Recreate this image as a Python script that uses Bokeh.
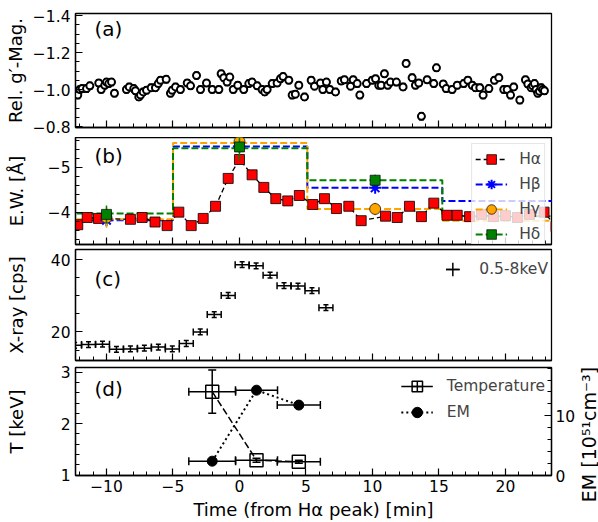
import math
from bokeh.plotting import figure
from bokeh.models import (Range1d, LinearAxis, FixedTicker, CustomJSTickFormatter,
                          Whisker, TeeHead, ColumnDataSource, Legend, LegendItem, Label)
from bokeh.layouts import column, row
from bokeh.embed import file_html
from bokeh.resources import INLINE

FONT = "DejaVu Sans"
TICK_FS = "15.5px"
LABEL_FS = "18px"
NAN = float("nan")

# ---------------- data ----------------
x_lim = (-12.33, 23.46)
x_major = [-10, -5, 0, 5, 10, 15, 20]
x_minor = list(range(-12, 24))

# (a) relative g' magnitude
mag_t = [-12.16, -12.0, -11.83, -11.5, -11.25, -10.58, -10.4, -10.13, -10.0, -9.83,
         -9.62, -9.4, -8.5, -8.29, -7.95, -7.82, -7.57, -7.44, -7.24, -6.99,
         -6.64, -6.32, -6.11, -5.94, -5.51, -5.19, -5.06, -4.81, -4.44, -3.93,
         -3.68, -3.23, -2.93, -2.48, -2.05, -1.55, -1.38, -1.18, -0.93, -0.73,
         -0.47, -0.13, 0.32, 0.7, 0.95, 1.33, 1.7, 1.9, 2.08, 2.46,
         2.83, 3.08, 3.28, 3.71, 3.96, 4.2, 4.46, 4.89, 5.39, 5.64,
         6.09, 6.27, 6.54, 6.79, 7.22, 7.65, 7.89, 8.35, 8.55, 8.85,
         9.05, 9.55, 9.98, 10.23, 10.47, 10.65, 10.9, 11.15, 11.35, 11.8,
         12.3, 12.53, 12.98, 13.23, 13.48, 13.68, 14.11, 14.61, 14.81, 15.32,
         15.54, 15.99, 16.37, 16.86, 17.17, 17.5, 17.74, 18.07, 18.32, 18.75,
         19.17, 19.5, 19.87, 20.13, 20.38, 20.62, 21.08, 21.5, 21.68, 21.93,
         22.05, 22.18, 22.3, 22.43, 22.55, 22.68, 22.8, 22.93]
mag_v = [-0.97, -1.0, -1.005, -1.005, -1.02, -1.035, -1.0, -1.023, -1.04, -1.032,
         -1.04, -0.98, -1.0, -1.014, -1.005, -0.993, -0.96, -0.97, -0.987, -0.996,
         -1.01, -1.01, -1.032, -1.05, -1.055, -0.98, -0.996, -1.014, -1.0, -1.035,
         -1.02, -1.076, -1.0, -1.035, -1.0, -1.0, -1.085, -1.064, -1.04, -1.067,
         -1.0, -1.023, -1.0, -1.032, -1.04, -1.02, -1.0, -0.987, -1.0, -1.032,
         -1.035, -1.058, -1.07, -1.05, -0.97, -0.975, -1.023, -0.96, -1.05, -1.018,
         -1.035, -1.0, -1.04, -1.0, -0.987, -1.046, -1.053, -1.018, -1.053, -1.032,
         -0.97, -1.032, -1.05, -1.058, -1.023, -1.023, -1.085, -1.023, -1.04, -1.04,
         -1.014, -1.141, -1.064, -1.023, -1.035, -0.855, -1.053, -1.032, -1.117, -1.03,
         -1.005, -1.0, -1.023, -1.032, -1.05, -1.023, -1.01, -1.01, -0.97, -1.005,
         -1.05, -1.064, -1.0, -1.0, -0.97, -1.014, -0.943, -1.053, -1.03, -1.01,
         -1.02, -1.032, -1.0, -0.98, -0.99, -1.01, -1.0, -0.993]
mag_err = [0.018] * len(mag_t)
a_major = [-1.4, -1.2, -1.0, -0.8]
a_minor = [-1.4 + 0.05 * i for i in range(13)]

# (b) equivalent widths
ha_t = [-12.16, -11.45, -10.6, -8.2, -7.32, -6.35, -5.44, -4.56, -3.63, -2.73,
        -1.8, -0.85, 0.0, 0.95, 1.83, 2.73, 3.63, 4.5, 5.51, 6.39,
        7.29, 8.22, 9.15, 10.98, 11.86, 12.78, 13.68, 14.61, 15.6, 16.37,
        17.3, 18.2, 19.1, 20.0, 20.9, 21.8, 22.9, 23.8]
ha_v = [-3.72, -3.88, -3.86, -3.84, -3.88, -3.78, -3.70, -4.00, -3.70, -3.86,
        -4.13, -4.75, -5.17, -4.83, -4.55, -4.30, -4.25, -4.37, -4.17, -4.30,
        -4.08, -4.13, -3.81, -3.91, -3.88, -4.13, -3.90, -4.20, -3.93, -3.93,
        -3.90, -3.95, -3.90, -3.92, -3.88, -3.95, -4.00, -3.68]
bin_edges = [-13.0, -5.0, 5.1, 15.25, 24.0]
hb_level = [-3.82, -5.46, -4.54, -4.25]
hg_level = [-3.84, -5.54, -4.07, -3.81]
hd_level = [-3.97, -5.42, -4.71, -3.91]
spec_t = [-10.0, 0.0, 10.2]
hb_pt = [-3.82, -5.46, -4.54]
hb_pe = [0.06, 0.08, 0.06]
hg_pt = [-3.88, -5.57, -4.07]
hg_pe = [0.23, 0.12, 0.14]
hd_pt = [-3.95, -5.45, -4.71]
hd_pe = [0.20, 0.30, 0.12]
b_major = [-5, -4]
b_minor = [-5.6, -5.4, -5.2, -4.8, -4.6, -4.4, -4.2, -3.8, -3.6, -3.4]

# (c) X-ray light curve
xr_t = [-12.4, -11.35, -10.3, -9.25, -8.2, -7.15, -6.1, -5.05, -4.0, -2.95,
        -1.9, -0.85, 0.2, 1.25, 2.3, 3.35, 4.4, 5.45, 6.5]
xr_v = [16.3, 16.5, 16.6, 15.2, 15.3, 15.5, 15.8, 15.3, 16.8, 20.0,
        24.8, 30.1, 38.6, 38.3, 35.7, 32.8, 32.7, 31.4, 26.7]
xr_hw = 0.525
xr_err = 0.8
c_major = [20, 40]
c_minor = [15, 25, 30, 35]

# (d) temperature and emission measure
d_t = [-2.05, 1.28, 4.46]
d_hw = [1.76, 1.58, 1.62]
temp = [2.62, 1.29, 1.26]
temp_err = [0.42, 0.04, 0.03]
em = [2.4, 14.3, 11.8]
em_err = [0.2, 0.4, 0.3]
d_major = [1, 2, 3]
d_minor = [1.2, 1.4, 1.6, 1.8, 2.2, 2.4, 2.6, 2.8, 3.0]
em_major = [0, 10]
em_minor = [2, 4, 6, 8, 12, 14, 16, 18]

# ---------------- helpers ----------------
FMT1 = CustomJSTickFormatter(code="return tick.toFixed(1).replace('-', '\\u2212');")
FMT0 = CustomJSTickFormatter(code="return tick.toFixed(0).replace('-', '\\u2212');")

W_MAIN = 578       # main column; the last 20 px hold the EM axis title
xr = Range1d(*x_lim)


def style_axis(ax, major, minor, labels=True, fmt=None):
    ax.ticker = FixedTicker(ticks=major, minor_ticks=minor)
    ax.major_tick_in = 7
    ax.major_tick_out = 0
    ax.minor_tick_in = 4
    ax.minor_tick_out = 0
    ax.major_tick_line_color = "black"
    ax.minor_tick_line_color = "black"
    ax.major_tick_line_width = 1.2
    ax.minor_tick_line_width = 1.0
    ax.axis_line_color = "black"
    ax.axis_line_width = 1.3
    if labels:
        ax.formatter = fmt if fmt is not None else FMT0
        ax.major_label_text_font = FONT
        ax.major_label_text_font_size = TICK_FS
        ax.major_label_text_color = "black"
        ax.major_label_standoff = 5
    else:
        ax.formatter = CustomJSTickFormatter(code="return ''")
        ax.major_label_text_font_size = "0px"
        ax.major_label_standoff = 0
    ax.axis_label_text_font = FONT
    ax.axis_label_text_font_size = LABEL_FS
    ax.axis_label_text_font_style = "normal"
    ax.axis_label_text_color = "black"


def make_fig(height, yrange, top, bottom, ylabel, ymajor, yminor, standoff,
             xlabels=False, yfmt=None):
    p = figure(width=W_MAIN, height=height, x_range=xr, y_range=yrange,
               output_backend="svg", toolbar_location=None,
               min_border_left=75, min_border_right=27,
               min_border_top=top, min_border_bottom=bottom)
    p.grid.visible = False
    p.outline_line_color = "black"
    p.outline_line_width = 1.3
    style_axis(p.xaxis[0], x_major, x_minor, labels=xlabels)
    style_axis(p.yaxis[0], ymajor, yminor, labels=True, fmt=yfmt)
    p.yaxis[0].axis_label = ylabel
    p.yaxis[0].axis_label_standoff = standoff
    return p


def panel_label(p, text, frame_h, from_top):
    p.add_layout(Label(x=19, y=frame_h - from_top, x_units="screen", y_units="screen",
                       text=text, text_baseline="top", text_align="left",
                       text_font=FONT, text_font_size="20px", text_color="black"))


def vwhisk(p, src, base, lo, hi, size, width=1.3, color="black", **kw):
    p.add_layout(Whisker(source=src, base=base, lower=lo, upper=hi, dimension="height",
                         line_color=color, line_width=width,
                         upper_head=TeeHead(size=size, line_color=color, line_width=width),
                         lower_head=TeeHead(size=size, line_color=color, line_width=width), **kw))


def hwhisk(p, src, base, lo, hi, size, width=1.3, color="black", **kw):
    p.add_layout(Whisker(source=src, base=base, lower=lo, upper=hi, dimension="width",
                         line_color=color, line_width=width,
                         upper_head=TeeHead(size=size, line_color=color, line_width=width),
                         lower_head=TeeHead(size=size, line_color=color, line_width=width), **kw))


def dummy():
    # one undrawable (NaN) row: only used to draw legend glyphs
    return ColumnDataSource(dict(x=[NAN], y=[NAN]))


# ---------------- (a) ----------------
pa = make_fig(137, Range1d(-0.7946, -1.411), 13, 10, "Rel. g\u2032-Mag.", a_major, a_minor, 4,
              yfmt=FMT1)
src_a = ColumnDataSource(dict(t=mag_t, v=mag_v,
                              lo=[v - e for v, e in zip(mag_v, mag_err)],
                              hi=[v + e for v, e in zip(mag_v, mag_err)]))
vwhisk(pa, src_a, "t", "lo", "hi", 5, width=1.5)
pa.scatter("t", "v", source=src_a, marker="circle", size=7, fill_color="white",
           line_color="black", line_width=2)
panel_label(pa, "(a)", 114, 3)

# ---------------- (b) ----------------
pb = make_fig(109, Range1d(-3.28, -5.66), 0, 2, "E.W. [\u00c5]", b_major, b_minor, 18)
step_style = dict(line_dash="7 3", line_width=2)
steps = {}
steps["b"] = pb.step(bin_edges, hb_level + hb_level[-1:], mode="after", line_color="#0000ff", **step_style)
steps["g"] = pb.step(bin_edges, hg_level + hg_level[-1:], mode="after", line_color="#ffa500", **step_style)
steps["d"] = pb.step(bin_edges, hd_level + hd_level[-1:], mode="after", line_color="#008000", **step_style)

ha_line = pb.line(ha_t, ha_v, line_color="black", line_dash="5 3", line_width=1.3)
ha_sc = pb.scatter(ha_t, ha_v, marker="square", size=10, fill_color="#ff0000",
                   line_color="black", line_width=0.8)

series = [("H\u03b2", "b", hb_pt, hb_pe, "#0000ff", "asterisk", 12),
          ("H\u03b3", "g", hg_pt, hg_pe, "#ffa500", "circle", 11),
          ("H\u03b4", "d", hd_pt, hd_pe, "#008000", "square", 10)]
legend_items = [LegendItem(label="H\u03b1", renderers=[ha_line, ha_sc])]
for name, key, pt_, pe, col, mk, sz in series:
    pb.segment(spec_t, [v - e for v, e in zip(pt_, pe)], spec_t, [v + e for v, e in zip(pt_, pe)],
               line_color=col, line_width=1.5)
    if mk == "asterisk":
        sc = pb.scatter(spec_t, pt_, marker=mk, size=sz, line_color=col, line_width=2)
    else:
        sc = pb.scatter(spec_t, pt_, marker=mk, size=sz, fill_color=col,
                        line_color="black", line_width=0.7)
    dv = pb.scatter("x", "y", source=dummy(), marker="dash", angle=math.pi / 2,
                    size=20, line_color=col, line_width=1.5)
    legend_items.append(LegendItem(label=name, renderers=[steps[key], dv, sc]))

leg_b = Legend(items=legend_items, location="top_right", margin=6, padding=3, spacing=1,
               glyph_width=32, glyph_height=24, label_height=24, label_standoff=12,
               label_text_font=FONT, label_text_font_size=TICK_FS,
               border_line_color="#cccccc", border_line_width=1,
               background_fill_color="white", background_fill_alpha=0.8)
pb.add_layout(leg_b)
panel_label(pb, "(b)", 107, 6)

# ---------------- (c) ----------------
pc = make_fig(117, Range1d(12.1, 42.8), 3, 3, "X-ray [cps]", c_major, c_minor, 21)
src_c = ColumnDataSource(dict(t=xr_t, v=xr_v,
                              xlo=[t - xr_hw for t in xr_t], xhi=[t + xr_hw for t in xr_t],
                              ylo=[v - xr_err for v in xr_v], yhi=[v + xr_err for v in xr_v]))
hwhisk(pc, src_c, "v", "xlo", "xhi", 7, width=1.5)
vwhisk(pc, src_c, "t", "ylo", "yhi", 5, width=1.5)
dc1 = pc.scatter("x", "y", source=dummy(), marker="cross", size=16,
                 line_color="black", line_width=1.5)
dc2 = pc.scatter("x", "y", source=dummy(), marker="dash", size=16,
                 line_color="black", line_width=1.5)
leg_c = Legend(items=[LegendItem(label="0.5-8keV", renderers=[dc1, dc2])], location="top_right",
               margin=1, padding=2, glyph_width=34, glyph_height=34, label_height=34,
               label_standoff=10, label_text_font=FONT, label_text_font_size=TICK_FS,
               border_line_alpha=0, background_fill_alpha=0)
pc.add_layout(leg_c)
panel_label(pc, "(c)", 111, 17)

# ---------------- (d) ----------------
pd = make_fig(159, Range1d(0.994, 3.09), 4, 44, "T [keV]", d_major, d_minor, 31, xlabels=True)
pd.xaxis[0].axis_label = "Time (from H\u03b1 peak) [min]"
pd.xaxis[0].axis_label_standoff = 4
pd.xaxis[0].major_label_standoff = 4
pd.extra_y_ranges = {"em": Range1d(0, 18.1)}
EM_LABEL = "EM [10\u2075\u00b9cm\u207b\u00b3]"
ax_em = LinearAxis(y_range_name="em")
style_axis(ax_em, em_major, em_minor, labels=True)
ax_em.major_label_standoff = 4
pd.add_layout(ax_em, "right")

src_d = ColumnDataSource(dict(t=d_t, T=temp, em=em,
                              xlo=[t - h for t, h in zip(d_t, d_hw)],
                              xhi=[t + h for t, h in zip(d_t, d_hw)],
                              Tlo=[v - e for v, e in zip(temp, temp_err)],
                              Thi=[v + e for v, e in zip(temp, temp_err)],
                              Elo=[v - e for v, e in zip(em, em_err)],
                              Ehi=[v + e for v, e in zip(em, em_err)]))
t_line = pd.line("t", "T", source=src_d, line_color="black", line_dash="7 3", line_width=1.5)
hwhisk(pd, src_d, "T", "xlo", "xhi", 8, width=1.5)
vwhisk(pd, src_d, "t", "Tlo", "Thi", 8, width=1.5)
t_sc = pd.scatter("t", "T", source=src_d, marker="square", size=13, fill_color=None,
                  line_color="black", line_width=1.5)

e_line = pd.line("t", "em", source=src_d, y_range_name="em", line_color="black",
                 line_dash="2 3", line_width=2)
hwhisk(pd, src_d, "em", "xlo", "xhi", 8, width=1.5, y_range_name="em")
vwhisk(pd, src_d, "t", "Elo", "Ehi", 8, width=1.5, y_range_name="em")
e_sc = pd.scatter("t", "em", source=src_d, y_range_name="em", marker="circle", size=10,
                  fill_color="black", line_color="black")

dl_t = pd.line("x", "y", source=dummy(), line_color="black", line_width=1.5)
dx_t = pd.scatter("x", "y", source=dummy(), marker="cross", size=18,
                  line_color="black", line_width=1.5)
dx_e = pd.scatter("x", "y", source=dummy(), marker="dash", angle=math.pi / 2,
                  size=18, line_color="black", line_width=1.5)
leg_d = Legend(items=[LegendItem(label="Temperature", renderers=[dl_t, dx_t, t_sc]),
                      LegendItem(label="EM", renderers=[e_line, dx_e, e_sc])],
               location="top_right", margin=4, padding=2, spacing=0,
               glyph_width=32, glyph_height=26, label_height=26, label_standoff=14,
               label_text_font=FONT, label_text_font_size=TICK_FS,
               border_line_alpha=0, background_fill_alpha=0)
pd.add_layout(leg_d)
panel_label(pd, "(d)", 111, 12)

# ---------------- right-hand title strip for the EM axis ----------------
pt = figure(width=20, height=522, output_backend="svg", toolbar_location=None,
            x_range=Range1d(0, 1), y_range=Range1d(0, 1),
            x_axis_location=None, y_axis_location=None, min_border=0)
pt.grid.visible = False
pt.outline_line_color = None
pt.add_layout(Label(x=10, y=88, x_units="screen", y_units="screen", angle=math.pi / 2,
                    text=EM_LABEL, text_align="center", text_baseline="middle",
                    text_font=FONT, text_font_size="19px", text_color="black"))

layout = row(column(pa, pb, pc, pd, spacing=0), pt, spacing=0)
with open("out.html", "w", encoding="utf-8") as f:
    f.write(file_html(layout, INLINE))
